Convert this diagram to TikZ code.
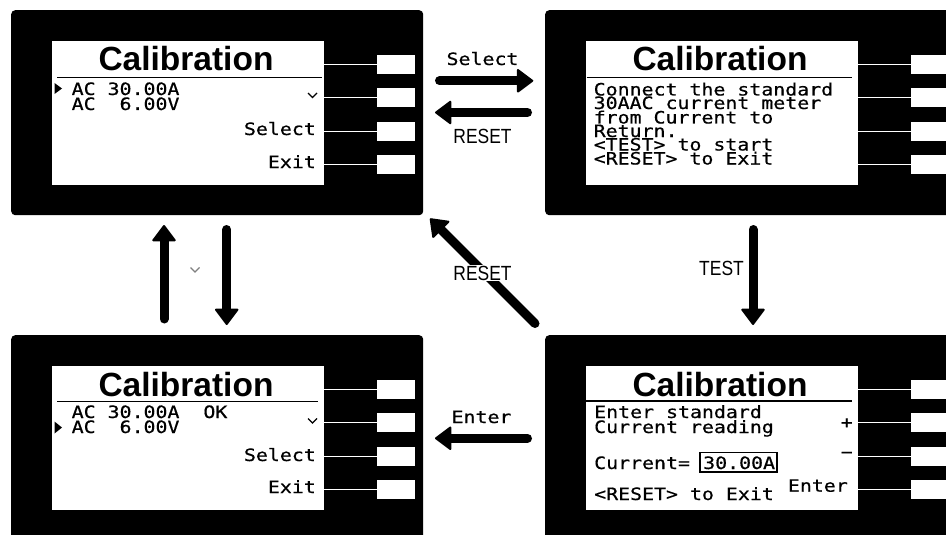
\documentclass[tikz,border=0pt]{standalone}
\usepackage{fontspec}
\setmainfont{Liberation Sans}
\newfontfamily\lcd[FakeStretch=1.17,FakeBold=0.6]{DejaVu Sans Mono}
\newfontfamily\lab[FakeStretch=0.85]{Liberation Sans}
\usetikzlibrary{arrows.meta}
\tikzset{
  panel/.style={fill=black, rounded corners=4pt, minimum width=412pt, minimum height=205pt, inner sep=0pt},
  screen/.style={fill=white, minimum width=272pt, minimum height=144pt, inner sep=0pt},
  btn/.style={fill=white, minimum width=38pt, minimum height=18.5pt, inner sep=0pt},
  lead/.style={draw=white, line width=1.8pt},
  title/.style={font=\fontsize{33.5}{33.5}\selectfont\bfseries, anchor=base, inner sep=0pt},
  lcdtext/.style={font=\lcd\fontsize{17}{17}\selectfont, anchor=base west, inner sep=0pt},
  lcdright/.style={lcdtext, anchor=base east},
  lcdmid/.style={lcdtext, anchor=base},
  labtext/.style={font=\lab\fontsize{20.5}{20.5}\selectfont, anchor=base, inner sep=0pt},
  uline/.style={line width=1.5pt},
  marker/.style={fill=black},
  chev/.style={line width=1.3pt, line join=miter},
  bigarrow/.style={line width=9pt, line cap=round, -{Triangle[width=25pt,length=17pt,round,line width=2pt]}},
}
\newcommand\lcdpanel[3]{%
  \node[panel, anchor=north west] (#1) at (#2,#3) {};
  \node[screen, anchor=north west] (#1s) at ({#2+41},{#3+31}) {};
  \foreach \k/\dy in {1/45, 2/78, 3/112, 4/145} {
    \node[btn, anchor=north west] (#1b\k) at ({#2+366},{#3+\dy}) {};
    \draw[lead] (#1b\k.west) -- (#1s.east |- #1b\k.west);
  }
  \node[title] (#1t) at ({#2+175},{#3+61}) {Calibration};
}
\begin{document}
\begin{tikzpicture}[x=1pt,y=-1pt]
\useasboundingbox (0,0) rectangle (946,535);
\fill[white] (0,0) rectangle (946,535);
\clip (0,0) rectangle (946,535);

% panels
\lcdpanel{tl}{11}{10}
\lcdpanel{tr}{545}{10}
\lcdpanel{bl}{11}{335}
\lcdpanel{br}{545}{335}

% top-left screen
\draw[uline] (57,77.3) -- (322,77.3);
\fill[marker] (54.5,83) -- (62,88.5) -- (54.5,94) -- cycle;
\node[lcdtext] (tl1) at (71.5,95) {AC 30.00A};
\node[lcdtext] (tl2) at (71.5,110) {AC\ \ 6.00V};
\draw[chev] (308,93) -- (312.5,97.5) -- (317,93);
\node[lcdright] (tlsel) at (316,135) {Select};
\node[lcdright] (tlexit) at (316,168) {Exit};

% top-right screen
\draw[uline] (586.7,77.3) -- (851.7,77.3);
\node[lcdtext] (tr1) at (593.5,95.5) {Connect the standard};
\node[lcdtext] (tr2) at (593.5,109) {30AAC current meter};
\node[lcdtext] (tr3) at (593.5,123.5) {from Current to};
\node[lcdtext] (tr4) at (593.5,137) {Return.};
\node[lcdtext] (tr5) at (593.5,150.5) {<TEST> to start};
\node[lcdtext] (tr6) at (593.5,164.5) {<RESET> to Exit};

% bottom-left screen
\draw[uline] (57,401.7) -- (318,401.7);
\node[lcdtext] (bl1) at (71.5,418) {AC 30.00A\ \ OK};
\fill[marker] (54.5,421.5) -- (62,427.5) -- (54.5,433.5) -- cycle;
\node[lcdtext] (bl2) at (71.5,433) {AC\ \ 6.00V};
\draw[chev] (308,418.5) -- (312.5,423) -- (317,418.5);
\node[lcdright] (blsel) at (316,461) {Select};
\node[lcdright] (blexit) at (316,493) {Exit};

% bottom-right screen
\draw[uline] (586,401) -- (851.7,401);
\node[lcdtext] (br1) at (594,418) {Enter standard};
\node[lcdtext] (br2) at (594,433) {Current reading};
\node[lcdtext] (br3) at (594,469) {Current=};
\node[lcdtext] (br4) at (703,469) {30.00A};
\draw[line width=1.5pt] (700,452.5) rectangle (777,472);
\node[lcdtext] (br5) at (594,500) {<RESET> to Exit};
\node[lcdtext, anchor=center] (brplus) at (846.7,423.3) {+};
\node[lcdtext, anchor=center] (brminus) at (846.7,455) {−};
\node[lcdright] (brenter) at (848,491.7) {Enter};

% arrow end points
\coordinate (selA) at (439.5,80.8);
\coordinate (selB) at (533.3,80.8);
\coordinate (rstA) at (527.5,112.5);
\coordinate (rstB) at (435,112.5);
\coordinate (upA) at (164,319);
\coordinate (upB) at (164,225);
\coordinate (dnA) at (226.7,229.5);
\coordinate (dnB) at (226.7,325);
\coordinate (dgA) at (535,323.5);
\coordinate (dgB) at (430,218.5);
\coordinate (tsA) at (753,229.5);
\coordinate (tsB) at (753,325);
\coordinate (enA) at (527.5,438.3);
\coordinate (enB) at (435,438.3);

% arrows
\draw[bigarrow] (selA) -- (selB);
\draw[bigarrow] (rstA) -- (rstB);
\draw[bigarrow] (upA) -- (upB);
\draw[bigarrow] (dnA) -- (dnB);
\draw[bigarrow] (dgA) -- (dgB);
\draw[bigarrow] (tsA) -- (tsB);
\draw[bigarrow] (enA) -- (enB);

% arrow labels
\node[lcdmid] (lsel) at (482.5,65) {Select};
\node[labtext] (lrst) at (482.5,143) {RESET};
\node[labtext, fill=white, inner sep=0.6pt] (ldg) at (482.5,280) {RESET};
\node[labtext] (lts) at (721.5,275) {TEST};
\node[lcdmid] (len) at (481.5,423) {Enter};
\draw[chev, gray] (190.5,267.5) -- (195,272) -- (199.5,267.5);
\end{tikzpicture}
\end{document}
